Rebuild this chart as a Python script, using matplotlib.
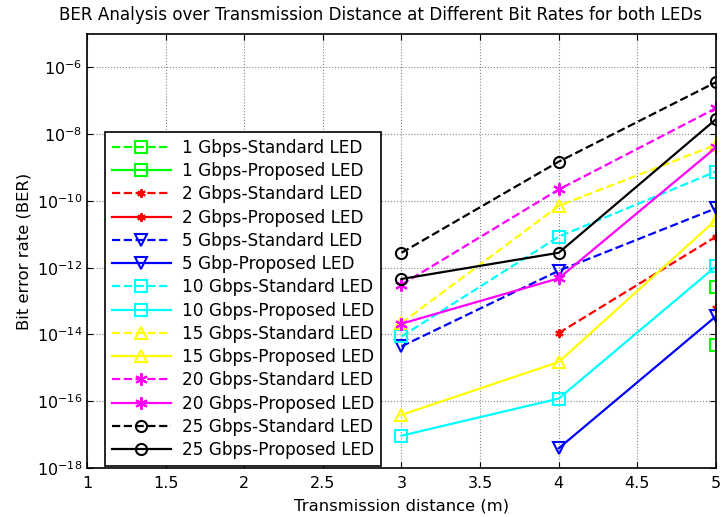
import numpy as np
import matplotlib

matplotlib.use("Agg")
import matplotlib.pyplot as plt  # noqa: E402

plt.rcParams["font.family"] = ["DejaVu Sans"]
plt.rcParams["mathtext.fontset"] = "dejavusans"

nan = np.nan
distance = [1, 2, 3, 4, 5]

# BER per bit rate (nan = no point plotted)
std_1 = [nan, nan, nan, nan, 2.7e-13]
prop_1 = [nan, nan, nan, nan, 4.7e-15]
std_2 = [nan, nan, nan, 1.1e-14, 8.5e-12]
prop_2 = [nan, nan, nan, nan, 6.2e-14]
std_5 = [nan, nan, 4.4e-15, 8.1e-13, 6.0e-11]
prop_5 = [nan, nan, nan, 3.9e-18, 3.5e-14]
std_10 = [nan, nan, 8.7e-15, 8.5e-12, 7.6e-10]
prop_10 = [nan, nan, 9.3e-18, 1.2e-16, 1.1e-12]
std_15 = [nan, nan, 2.2e-14, 7.1e-11, 4.8e-09]
prop_15 = [nan, nan, 3.9e-17, 1.5e-15, 2.7e-11]
std_20 = [nan, nan, 3.1e-13, 2.2e-10, 6.0e-08]
prop_20 = [nan, nan, 2.1e-14, 4.8e-13, 4.0e-09]
std_25 = [nan, nan, 2.8e-12, 1.5e-09, 3.6e-07]
prop_25 = [nan, nan, 4.6e-13, 2.8e-12, 2.8e-08]

asterisk = (6, 2, 0)
series = [
    (std_1, "1 Gbps-Standard LED", "#00ff00", "--", "s", 8),
    (prop_1, "1 Gbps-Proposed LED", "#00ff00", "-", "s", 8),
    (std_2, "2 Gbps-Standard LED", "#ff0000", "--", asterisk, 6),
    (prop_2, "2 Gbps-Proposed LED", "#ff0000", "-", asterisk, 6),
    (std_5, "5 Gbps-Standard LED", "#0000ff", "--", "v", 9),
    (prop_5, "5 Gbp-Proposed LED", "#0000ff", "-", "v", 9),
    (std_10, "10 Gbps-Standard LED", "#00ffff", "--", "s", 8),
    (prop_10, "10 Gbps-Proposed LED", "#00ffff", "-", "s", 8),
    (std_15, "15 Gbps-Standard LED", "#ffff00", "--", "^", 9),
    (prop_15, "15 Gbps-Proposed LED", "#ffff00", "-", "^", 9),
    (std_20, "20 Gbps-Standard LED", "#ff00ff", "--", asterisk, 9),
    (prop_20, "20 Gbps-Proposed LED", "#ff00ff", "-", asterisk, 9),
    (std_25, "25 Gbps-Standard LED", "#000000", "--", "o", 8),
    (prop_25, "25 Gbps-Proposed LED", "#000000", "-", "o", 8),
]

fig = plt.figure(figsize=(7.21, 5.17), dpi=100)
ax = fig.add_axes([0.1207, 0.0948, 0.8723, 0.8394])

for ys, label, color, ls, marker, ms in series:
    ax.semilogy(distance, ys, linestyle=ls, color=color, marker=marker,
                markersize=ms, markerfacecolor="none", markeredgecolor=color,
                markeredgewidth=1.5, linewidth=1.6, label=label)

ax.set_xlim(1, 5)
ax.set_ylim(1e-18, 1e-5)
ax.set_xticks(np.arange(1, 5.01, 0.5))
ax.set_xticklabels(["1", "1.5", "2", "2.5", "3", "3.5", "4", "4.5", "5"])
ax.set_yticks([10.0 ** e for e in range(-18, -5, 2)])
ax.yaxis.set_minor_locator(matplotlib.ticker.NullLocator())
ax.tick_params(direction="in", top=True, right=True, labelsize=11.5, length=4)
ax.tick_params(axis="x", pad=6)
ax.grid(True, which="major", color="#888888", linestyle=":", linewidth=0.8)
for s in ax.spines.values():
    s.set_linewidth(1.2)

ax.set_xlabel("Transmission distance (m)", fontsize=11.8, labelpad=5)
ax.set_ylabel("Bit error rate (BER)", fontsize=11.8, labelpad=4)
fig.text(0.528, 0.971,
         "BER Analysis over Transmission Distance at Different Bit Rates for both LEDs",
         fontsize=12.1, ha="center", va="center")

leg = ax.legend(loc="lower left", bbox_to_anchor=(0.0286, 0.005), fontsize=12.2,
                handlelength=3.5, fancybox=False, framealpha=1, edgecolor="black",
                borderaxespad=0, handletextpad=0.65, borderpad=0.4,
                labelspacing=0.31)
leg.get_frame().set_linewidth(1.2)

fig.savefig("out.png", dpi=100)
